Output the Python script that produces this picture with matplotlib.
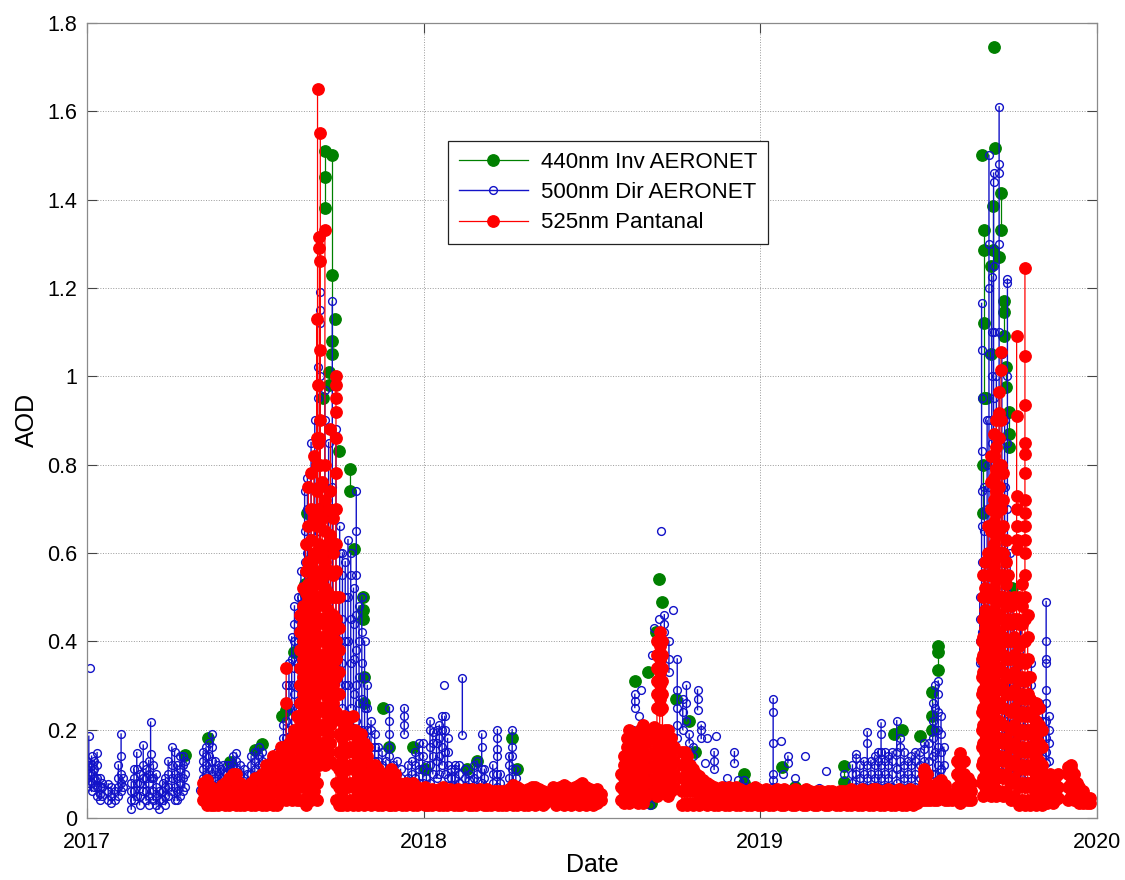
import numpy as np
import pandas as pd
import matplotlib
matplotlib.use("Agg")
import matplotlib.pyplot as plt
from matplotlib.ticker import FuncFormatter

plt.rcParams['font.family'] = ['Liberation Sans', 'DejaVu Sans']

# days counted from 2017-01-01, values are AOD readings of that day
start = pd.Timestamp('2017-01-01')

green_days = [106, 131, 155, 182, 190, 212, 216, 225, 236, 239, 244, 256, 258, 262, 266, 269, 273,
              285, 290, 299, 300, 321, 328, 353, 367, 412, 423, 461, 466,
              594, 608, 612, 617, 620, 623, 639, 653, 659, 712,
              754, 768, 821, 875, 884, 903, 916, 923,
              970, 972, 973, 975, 980, 982, 983, 984, 989, 991, 994, 996, 1000, 1003]
green_aod = [[0.143], [0.18], [0.127], [0.154], [0.167], [0.23], [0.245], [0.375], [0.51, 0.53], [0.69], [0.59],
             [0.95], [1.38, 1.45, 1.51], [0.98, 1.01], [1.05, 1.08, 1.23, 1.5], [1.13], [0.83],
             [0.74, 0.79], [0.61], [0.45, 0.47, 0.5], [0.26, 0.32], [0.25], [0.16], [0.16], [0.11],
             [0.11], [0.13], [0.18], [0.11],
             [0.31], [0.33], [0.035, 0.045], [0.42], [0.54], [0.49], [0.27], [0.22], [0.15], [0.08, 0.1],
             [0.115], [0.07], [0.082, 0.118], [0.19], [0.2], [0.185], [0.2, 0.23, 0.285], [0.335, 0.375, 0.39],
             [1.5], [0.69, 0.8], [0.95, 1.12, 1.285, 1.33], [0.95], [1.05, 1.25], [1.285, 1.385], [1.745],
             [1.517], [1.27], [1.33, 1.415], [1.09, 1.145, 1.17], [0.975, 1.02], [0.84, 0.87, 0.92], [0.52]]

blue_days = [0, 2, 3, 5, 8, 11, 14, 16, 23, 26, 30, 34, 37, 39, 48, 51, 54, 57, 61, 64, 67, 69, 72, 75,
             78, 82, 85, 88, 92, 95, 98, 101, 104, 106, 123, 126, 129, 132, 136, 139, 142, 145, 148,
             152, 155, 158, 162, 166, 170, 174, 178, 182, 186, 190, 194, 198, 202, 206, 210, 213, 216,
             219, 222, 225, 229, 232, 236, 239, 243, 247, 250, 253, 258, 262, 266, 270, 274, 277, 280,
             283, 286, 289, 292, 295, 298, 301, 304, 308, 312, 316, 320, 324, 328, 332, 336, 340, 344,
             348, 352, 356, 360, 364, 368, 372, 375, 379, 382, 385, 387, 388, 391, 395, 399, 403, 407,
             410, 414, 420, 423, 428, 431, 440, 445, 448, 458, 461, 465,
             592, 594, 599, 601, 606, 610, 613, 615, 620, 622, 626, 631, 635, 640, 646, 650, 653, 657,
             662, 666, 670, 672, 680, 682, 694, 702, 706, 712,
             744, 752, 755, 760, 768, 779, 794, 801, 821, 830, 834, 838, 842, 846, 850, 854, 858, 861,
             865, 869, 873, 878, 882, 886, 890, 894, 898, 903, 908, 913, 917, 920, 923, 926, 929,
             968, 970, 973, 976, 978, 981, 983, 986, 989, 992, 995, 998, 1001, 1004, 1008, 1012, 1016,
             1020, 1024, 1028, 1032, 1036, 1040, 1043]
blue_aod = [[0.07, 0.09, 0.11, 0.13], [0.08, 0.1, 0.12, 0.185], [0.34], [0.06, 0.08, 0.1, 0.12, 0.14],
            [0.07, 0.09, 0.11, 0.13], [0.05, 0.07, 0.09, 0.12, 0.148], [0.04, 0.055, 0.07, 0.09],
            [0.05, 0.07, 0.08], [0.04, 0.06, 0.077], [0.035, 0.05, 0.07], [0.04, 0.06],
            [0.05, 0.07, 0.09, 0.12], [0.06, 0.08, 0.1, 0.14, 0.19], [0.07, 0.09],
            [0.02, 0.04, 0.06, 0.08], [0.04, 0.06, 0.09, 0.11], [0.05, 0.08, 0.11, 0.148],
            [0.03, 0.05, 0.08, 0.1], [0.06, 0.09, 0.12, 0.165], [0.04, 0.06, 0.09, 0.11],
            [0.03, 0.05, 0.08, 0.1, 0.13], [0.09, 0.145, 0.217], [0.04, 0.06, 0.09, 0.12],
            [0.03, 0.05, 0.07, 0.1], [0.02, 0.04, 0.06], [0.04, 0.06, 0.08], [0.03, 0.05, 0.07, 0.09],
            [0.05, 0.07, 0.1, 0.13], [0.06, 0.09, 0.12, 0.16], [0.04, 0.07, 0.1, 0.15],
            [0.04, 0.06, 0.09, 0.12], [0.05, 0.08, 0.11, 0.14], [0.06, 0.09, 0.12, 0.14],
            [0.07, 0.1, 0.13], [0.063], [0.07, 0.09, 0.11, 0.13, 0.15], [0.08, 0.1, 0.12, 0.14, 0.16],
            [0.07, 0.09, 0.11, 0.14, 0.17], [0.1, 0.13, 0.16, 0.19], [0.07, 0.09, 0.11, 0.13],
            [0.06, 0.08, 0.1, 0.12], [0.07, 0.09, 0.11], [0.06, 0.08, 0.1, 0.12], [0.08, 0.1, 0.12],
            [0.07, 0.09, 0.11, 0.12], [0.08, 0.1, 0.12, 0.14], [0.07, 0.09, 0.11, 0.13, 0.147],
            [0.08, 0.1, 0.12], [0.07, 0.09, 0.11], [0.06, 0.08, 0.1], [0.08, 0.1, 0.12, 0.14],
            [0.09, 0.11, 0.13, 0.15], [0.08, 0.1, 0.12, 0.14, 0.16], [0.09, 0.11, 0.13, 0.15],
            [0.08, 0.1, 0.12], [0.07, 0.09, 0.11, 0.13], [0.08, 0.1, 0.12, 0.14],
            [0.09, 0.11, 0.13, 0.15], [0.1, 0.12, 0.14, 0.16], [0.12, 0.15, 0.18, 0.21],
            [0.14, 0.18, 0.22, 0.26, 0.3], [0.15, 0.2, 0.25, 0.3, 0.35], [0.2, 0.25, 0.3, 0.36, 0.41],
            [0.22, 0.28, 0.34, 0.4, 0.44, 0.48], [0.25, 0.3, 0.35, 0.4, 0.45, 0.5],
            [0.3, 0.35, 0.4, 0.45, 0.5, 0.56], [0.35, 0.42, 0.5, 0.58, 0.65, 0.74],
            [0.4, 0.5, 0.6, 0.7, 0.77], [0.45, 0.55, 0.65, 0.75, 0.85], [0.5, 0.6, 0.7, 0.8, 0.9],
            [0.55, 0.65, 0.8, 0.95, 1.02], [0.6, 0.7, 0.85, 1.0, 1.12, 1.15, 1.19],
            [0.5, 0.6, 0.75, 0.9, 0.97], [0.45, 0.55, 0.7, 0.85], [0.4, 0.5, 0.6, 0.75, 1.17],
            [0.35, 0.45, 0.55, 0.7, 0.88], [0.3, 0.4, 0.5, 0.6, 0.66], [0.25, 0.35, 0.45, 0.55, 0.6],
            [0.22, 0.3, 0.4, 0.5, 0.58], [0.2, 0.3, 0.4, 0.5, 0.63], [0.25, 0.35, 0.45, 0.55, 0.6],
            [0.2, 0.28, 0.36, 0.44, 0.52], [0.22, 0.3, 0.38, 0.46, 0.55, 0.65, 0.74],
            [0.2, 0.26, 0.32, 0.4, 0.48], [0.15, 0.2, 0.27, 0.35, 0.42, 0.5],
            [0.12, 0.18, 0.25, 0.32, 0.4], [0.1, 0.15, 0.2, 0.25, 0.3], [0.08, 0.12, 0.16, 0.2, 0.22],
            [0.07, 0.1, 0.13, 0.16, 0.19], [0.08, 0.1, 0.13, 0.16], [0.06, 0.09, 0.12, 0.15],
            [0.07, 0.1, 0.13], [0.08, 0.11, 0.14, 0.16, 0.19, 0.22, 0.25], [0.06, 0.09, 0.12],
            [0.07, 0.1, 0.13], [0.06, 0.09, 0.11], [0.19, 0.21, 0.23, 0.25], [0.07, 0.09, 0.12],
            [0.06, 0.08, 0.1, 0.13], [0.07, 0.09, 0.12, 0.15], [0.08, 0.11, 0.14, 0.17],
            [0.08, 0.11, 0.14, 0.17], [0.06, 0.09, 0.12], [0.08, 0.12, 0.16, 0.2, 0.22],
            [0.1, 0.14, 0.17, 0.195], [0.09, 0.13, 0.17, 0.2], [0.1, 0.14, 0.18, 0.21],
            [0.12, 0.16, 0.2, 0.23], [0.3], [0.1, 0.15, 0.2, 0.23], [0.09, 0.12, 0.15, 0.18],
            [0.07, 0.09, 0.11], [0.07, 0.09, 0.11, 0.12], [0.06, 0.08, 0.1, 0.12], [0.188, 0.317],
            [0.07, 0.09, 0.11], [0.07, 0.085, 0.1], [0.06, 0.09, 0.12], [0.07, 0.1, 0.13],
            [0.08, 0.11, 0.16, 0.19], [0.07, 0.09, 0.11], [0.06, 0.08, 0.1, 0.12],
            [0.07, 0.1, 0.14, 0.155, 0.18, 0.2], [0.06, 0.08, 0.1], [0.07, 0.09, 0.12, 0.14],
            [0.08, 0.11, 0.14, 0.16, 0.2], [0.07, 0.09, 0.11],
            [0.08, 0.2], [0.25, 0.265, 0.28], [0.23], [0.29], [0.1, 0.13, 0.17],
            [0.03, 0.05, 0.07, 0.09, 0.12], [0.37], [0.43], [0.45], [0.65], [0.4, 0.42, 0.44, 0.46],
            [0.33, 0.36, 0.4], [0.47], [0.18, 0.21, 0.25, 0.29, 0.36], [0.2, 0.24, 0.27],
            [0.22, 0.26, 0.3], [0.17, 0.19], [0.14, 0.16], [0.245, 0.27, 0.29], [0.18, 0.2, 0.21],
            [0.125], [0.18], [0.11, 0.13, 0.15], [0.185], [0.09], [0.125, 0.15], [0.085], [0.07, 0.085],
            [0.07, 0.085, 0.1, 0.17, 0.24, 0.27], [0.175], [0.1], [0.125, 0.14], [0.09], [0.14],
            [0.06, 0.068], [0.107], [0.1], [0.06, 0.08, 0.1, 0.12], [0.07, 0.1, 0.135, 0.145],
            [0.06, 0.09, 0.12], [0.07, 0.1, 0.13], [0.06, 0.09, 0.12, 0.17, 0.195], [0.07, 0.1, 0.13],
            [0.06, 0.09, 0.12, 0.14], [0.07, 0.1, 0.13, 0.15], [0.06, 0.09, 0.12, 0.15, 0.19, 0.215],
            [0.07, 0.1, 0.13, 0.15], [0.06, 0.09, 0.12, 0.14], [0.07, 0.1, 0.13, 0.15],
            [0.08, 0.11, 0.15, 0.22], [0.07, 0.1, 0.13, 0.16, 0.18], [0.06, 0.09, 0.12, 0.15],
            [0.07, 0.1, 0.13], [0.06, 0.09, 0.12, 0.14], [0.07, 0.1, 0.13, 0.15],
            [0.06, 0.09, 0.12, 0.15], [0.07, 0.1, 0.13, 0.155, 0.17], [0.07, 0.1, 0.13, 0.17],
            [0.1, 0.14, 0.18, 0.22, 0.26], [0.06, 0.1, 0.15, 0.2, 0.25, 0.3],
            [0.08, 0.12, 0.16, 0.2, 0.24, 0.28, 0.31], [0.07, 0.11, 0.15, 0.19, 0.23], [0.08, 0.12, 0.16],
            [0.35, 0.4, 0.45, 0.5], [0.35, 0.42, 0.5, 0.58, 0.66, 0.74, 0.83, 0.95, 1.06, 1.165],
            [0.3, 0.38, 0.46, 0.55, 0.65, 0.75], [0.4, 0.5, 0.6, 0.7, 0.8, 0.9],
            [0.45, 0.6, 0.75, 0.9, 1.05, 1.2, 1.3, 1.5], [0.3, 0.4, 0.55, 0.7, 0.85, 1.0, 1.1, 1.225],
            [0.2, 0.35, 0.5, 0.65, 0.8, 0.95, 1.1, 1.25, 1.44, 1.46], [0.15, 0.25, 0.4, 0.55, 0.7, 0.85, 1.0],
            [0.1, 0.2, 0.35, 0.5, 0.7, 0.9, 1.1, 1.3, 1.46, 1.48, 1.61],
            [0.1, 0.2, 0.3, 0.45, 0.6, 0.75, 0.9, 1.05], [0.12, 0.22, 0.32, 0.45, 0.6, 0.75, 0.9],
            [0.15, 0.25, 0.4, 0.55, 0.7, 0.85, 1.0, 1.21, 1.22], [0.1, 0.2, 0.3, 0.4, 0.5, 0.6],
            [0.1, 0.2, 0.3, 0.4, 0.5], [0.1, 0.18, 0.26, 0.34, 0.42], [0.08, 0.15, 0.22, 0.3, 0.38, 0.45],
            [0.08, 0.14, 0.2, 0.26, 0.32], [0.1, 0.16, 0.22, 0.28], [0.12, 0.18, 0.24, 0.3, 0.35],
            [0.1, 0.15, 0.2, 0.24], [0.13, 0.18, 0.22, 0.26], [0.14, 0.18, 0.22, 0.25],
            [0.125, 0.15, 0.18, 0.22, 0.26, 0.29, 0.35, 0.36, 0.4, 0.49], [0.13, 0.17, 0.2, 0.23]]

red_days = [126, 130, 134, 138, 142, 146, 150, 154, 158, 162, 166, 170, 174, 178, 182, 186, 190, 194,
            198, 202, 206, 210, 213, 216, 219, 222, 225, 228, 231, 234, 237, 240, 243, 246, 249, 250,
            252, 253, 255, 258, 261, 264, 267, 270, 273, 276, 279, 282, 285, 288, 291, 294, 297, 300,
            304, 308, 312, 316, 320, 324, 328,
            330, 334, 338, 342, 346, 350, 354, 358, 362, 366, 370, 374, 378, 382, 386, 390, 394, 398,
            402, 406, 410, 414, 418, 422, 426, 430, 434, 438, 442, 446, 450, 454, 458, 462, 466, 470,
            474, 478, 482, 486, 490, 494, 497,
            505, 509, 513, 517, 521, 525, 529, 533, 537, 541, 545, 549, 553, 557,
            579, 582, 585, 588, 591, 594, 597, 600, 603, 606,
            615, 618, 621, 624, 627, 630, 633, 636,
            645, 648, 651, 654, 657, 660, 664, 668, 672, 676, 680, 684, 688, 692, 696, 700, 704, 708,
            712, 716, 720, 724, 728, 732, 736, 740, 744, 748, 752, 756, 760, 764, 768, 772, 776, 780,
            784, 788, 792, 796, 800, 804, 808, 812, 816, 820, 824, 828, 832, 836, 840, 844, 848, 852,
            856, 860, 864, 868, 872, 876, 880, 884, 888, 892, 896, 900, 904, 908, 911, 914, 918, 922,
            926, 930, 934, 938, 943, 947, 951, 955, 959,
            970, 972, 974, 977, 980, 983, 986, 989, 991, 993, 996, 999, 1002, 1005, 1008, 1011, 1014,
            1017, 1020, 1023, 1026, 1029, 1032, 1035, 1038, 1041, 1044, 1047, 1050, 1053,
            1064, 1067, 1070, 1073, 1076, 1080, 1084, 1088]
red_aod = [[0.04, 0.06, 0.08], [0.03, 0.05, 0.07, 0.086], [0.03, 0.05, 0.07], [0.03, 0.045, 0.064],
           [0.03, 0.05, 0.065], [0.035, 0.055, 0.075], [0.03, 0.05, 0.08], [0.03, 0.06, 0.09],
           [0.035, 0.06, 0.1], [0.03, 0.05, 0.08, 0.1], [0.03, 0.05, 0.08], [0.03, 0.05, 0.07],
           [0.035, 0.055, 0.07], [0.03, 0.05, 0.08], [0.03, 0.06, 0.09], [0.035, 0.06, 0.09],
           [0.03, 0.05, 0.08, 0.1], [0.03, 0.06, 0.09, 0.12], [0.04, 0.07, 0.1, 0.12],
           [0.03, 0.06, 0.09, 0.12, 0.14], [0.03, 0.06, 0.09, 0.12, 0.13], [0.04, 0.07, 0.1, 0.13, 0.16],
           [0.05, 0.08, 0.11, 0.14, 0.16], [0.04, 0.07, 0.1, 0.13, 0.16, 0.26, 0.34],
           [0.05, 0.08, 0.11, 0.14, 0.17], [0.04, 0.07, 0.1, 0.13, 0.16, 0.18],
           [0.05, 0.08, 0.12, 0.16, 0.2], [0.04, 0.08, 0.12, 0.16, 0.2, 0.23],
           [0.04, 0.07, 0.1, 0.14, 0.18, 0.22, 0.26, 0.3, 0.34, 0.38, 0.42, 0.46],
           [0.04, 0.08, 0.12, 0.16, 0.2, 0.24, 0.28, 0.32, 0.36, 0.4, 0.44, 0.48, 0.52],
           [0.03, 0.07, 0.11, 0.15, 0.19, 0.23, 0.27, 0.31, 0.35, 0.39, 0.43, 0.47, 0.51, 0.56, 0.62],
           [0.05, 0.09, 0.13, 0.17, 0.21, 0.25, 0.29, 0.33, 0.37, 0.41, 0.45, 0.49, 0.53, 0.58, 0.66, 0.75],
           [0.04, 0.08, 0.12, 0.16, 0.2, 0.24, 0.28, 0.32, 0.36, 0.4, 0.44, 0.48, 0.52, 0.57, 0.63, 0.7, 0.78],
           [0.06, 0.1, 0.14, 0.18, 0.22, 0.26, 0.3, 0.34, 0.38, 0.42, 0.46, 0.5, 0.55, 0.6, 0.68, 0.82],
           [0.04, 0.08, 0.12, 0.16, 0.2, 0.24, 0.28, 0.32, 0.36, 0.4, 0.44, 0.48, 0.53, 0.59, 0.66, 0.74,
            0.8, 0.86, 1.13],
           [0.5, 0.6, 0.7, 0.85, 0.98, 1.65],
           [0.12, 0.2, 0.3, 0.4, 0.5, 0.62, 0.75, 0.86, 1.29, 1.315],
           [0.15, 0.25, 0.35, 0.45, 0.56, 0.67, 0.8, 0.9, 1.06, 1.26, 1.55],
           [0.13, 0.17, 0.21, 0.25, 0.29, 0.33, 0.37, 0.41, 0.45, 0.49, 0.54, 0.6, 0.68, 0.76],
           [0.12, 0.16, 0.2, 0.24, 0.28, 0.32, 0.36, 0.4, 0.44, 0.48, 0.52, 0.58, 0.65, 0.72, 0.8, 1.33],
           [0.15, 0.19, 0.23, 0.27, 0.31, 0.35, 0.39, 0.43, 0.47, 0.51, 0.56, 0.62, 0.7],
           [0.13, 0.17, 0.21, 0.25, 0.29, 0.33, 0.37, 0.41, 0.45, 0.5, 0.56, 0.64, 0.74, 0.88],
           [0.22, 0.26, 0.3, 0.34, 0.38, 0.42, 0.46, 0.5, 0.55, 0.6, 0.68],
           [0.04, 0.08, 0.12, 0.24, 0.28, 0.32, 0.36, 0.4, 0.45, 0.5, 0.56, 0.62, 0.7, 0.78, 0.86, 0.92,
            0.95, 0.98, 1.0],
           [0.03, 0.07, 0.11, 0.15, 0.19, 0.23, 0.28, 0.33, 0.38, 0.43, 0.5],
           [0.03, 0.06, 0.1, 0.14, 0.18, 0.22], [0.04, 0.08, 0.12, 0.16, 0.2, 0.23],
           [0.03, 0.07, 0.11, 0.15, 0.19, 0.22], [0.04, 0.08, 0.12, 0.16, 0.2],
           [0.03, 0.07, 0.11, 0.15, 0.19, 0.23], [0.04, 0.08, 0.12, 0.16, 0.2],
           [0.03, 0.06, 0.1, 0.14, 0.18], [0.04, 0.08, 0.12, 0.16, 0.19], [0.03, 0.06, 0.1, 0.14, 0.17],
           [0.04, 0.07, 0.1, 0.14, 0.16], [0.03, 0.06, 0.09, 0.12], [0.04, 0.07, 0.1, 0.12],
           [0.03, 0.06, 0.09, 0.11], [0.03, 0.05, 0.08, 0.1], [0.035, 0.06, 0.09], [0.03, 0.05, 0.08],
           [0.03, 0.06, 0.09, 0.11], [0.03, 0.05, 0.08, 0.1], [0.035, 0.06, 0.08], [0.03, 0.05, 0.07],
           [0.03, 0.05, 0.07, 0.08], [0.035, 0.055, 0.075], [0.03, 0.05, 0.08], [0.03, 0.05, 0.07],
           [0.035, 0.055, 0.065], [0.03, 0.05, 0.07], [0.03, 0.045, 0.06], [0.03, 0.05, 0.065],
           [0.035, 0.05, 0.06], [0.03, 0.045, 0.065], [0.03, 0.05, 0.07], [0.03, 0.05, 0.06],
           [0.035, 0.05, 0.065], [0.03, 0.045, 0.06], [0.03, 0.05, 0.065], [0.03, 0.045, 0.06],
           [0.035, 0.05, 0.065], [0.03, 0.045, 0.06], [0.03, 0.05, 0.065], [0.03, 0.045, 0.06],
           [0.035, 0.05, 0.065], [0.03, 0.045, 0.06], [0.03, 0.05, 0.065], [0.03, 0.045, 0.06],
           [0.035, 0.05, 0.06], [0.03, 0.045, 0.06], [0.03, 0.05, 0.06], [0.03, 0.045, 0.06],
           [0.035, 0.05, 0.065], [0.03, 0.05, 0.075], [0.03, 0.05, 0.07], [0.035, 0.05, 0.065],
           [0.03, 0.045, 0.06], [0.03, 0.05, 0.065], [0.035, 0.05, 0.07], [0.03, 0.05, 0.07],
           [0.035, 0.05, 0.065], [0.03, 0.05, 0.06], [0.035, 0.05],
           [0.04, 0.06, 0.07], [0.03, 0.05, 0.065], [0.035, 0.05, 0.07], [0.03, 0.05, 0.075],
           [0.035, 0.055, 0.07], [0.03, 0.05, 0.065], [0.035, 0.05, 0.07], [0.03, 0.05, 0.075],
           [0.035, 0.055, 0.08], [0.03, 0.05, 0.07], [0.035, 0.05, 0.065], [0.03, 0.045, 0.06],
           [0.035, 0.05, 0.065], [0.04, 0.055],
           [0.04, 0.07, 0.1], [0.035, 0.06, 0.09, 0.12, 0.14], [0.04, 0.07, 0.1, 0.13, 0.16, 0.18],
           [0.035, 0.06, 0.09, 0.12, 0.15, 0.18, 0.2], [0.04, 0.07, 0.1, 0.13, 0.16, 0.19],
           [0.04, 0.07, 0.1, 0.13, 0.16, 0.19], [0.035, 0.06, 0.09, 0.12, 0.15, 0.18],
           [0.04, 0.07, 0.1, 0.13, 0.16, 0.19, 0.2], [0.035, 0.06, 0.09, 0.12, 0.15, 0.18, 0.21],
           [0.05, 0.08, 0.11, 0.14, 0.17, 0.2],
           [0.06, 0.09, 0.12, 0.15, 0.18, 0.205],
           [0.05, 0.08, 0.11, 0.14, 0.17, 0.2, 0.25, 0.28, 0.31, 0.34, 0.37, 0.4],
           [0.06, 0.09, 0.12, 0.15, 0.18, 0.2, 0.245, 0.27, 0.3, 0.33, 0.36, 0.39, 0.42],
           [0.07, 0.1, 0.13, 0.16, 0.19, 0.25, 0.28, 0.31, 0.34, 0.37, 0.4],
           [0.06, 0.09, 0.12, 0.15, 0.18, 0.2], [0.05, 0.08, 0.11, 0.14, 0.17, 0.2],
           [0.06, 0.09, 0.12, 0.15, 0.18], [0.07, 0.1, 0.13, 0.16],
           [0.03, 0.06, 0.09, 0.12, 0.15], [0.035, 0.065, 0.095, 0.125, 0.15], [0.03, 0.06, 0.09, 0.12, 0.14],
           [0.035, 0.065, 0.095, 0.12], [0.03, 0.06, 0.09, 0.11], [0.035, 0.06, 0.09, 0.1],
           [0.03, 0.055, 0.08, 0.095], [0.035, 0.06, 0.085], [0.03, 0.055, 0.08], [0.035, 0.055, 0.075],
           [0.03, 0.05, 0.07], [0.03, 0.05, 0.065], [0.035, 0.05, 0.07], [0.03, 0.05, 0.065],
           [0.03, 0.05, 0.07], [0.035, 0.05, 0.065], [0.03, 0.05, 0.07], [0.03, 0.05, 0.065],
           [0.035, 0.05, 0.06], [0.03, 0.045, 0.06], [0.03, 0.05, 0.065], [0.035, 0.05, 0.07],
           [0.03, 0.05, 0.065], [0.03, 0.045, 0.06], [0.035, 0.05, 0.065], [0.03, 0.045, 0.06],
           [0.03, 0.05, 0.06], [0.035, 0.05, 0.065], [0.03, 0.045, 0.06], [0.03, 0.05, 0.065],
           [0.035, 0.05, 0.06], [0.03, 0.045, 0.06], [0.03, 0.05, 0.065], [0.035, 0.05, 0.06],
           [0.03, 0.045, 0.06], [0.03, 0.05, 0.065], [0.035, 0.05, 0.06], [0.03, 0.045, 0.055],
           [0.03, 0.045, 0.06], [0.035, 0.05, 0.06], [0.03, 0.045, 0.055], [0.03, 0.045, 0.06],
           [0.035, 0.05, 0.06], [0.03, 0.045, 0.055], [0.03, 0.045, 0.06], [0.035, 0.05, 0.06],
           [0.03, 0.045, 0.06], [0.03, 0.05, 0.065], [0.035, 0.05, 0.06], [0.03, 0.045, 0.06],
           [0.03, 0.05, 0.065], [0.035, 0.05, 0.06], [0.03, 0.045, 0.06], [0.03, 0.05, 0.065],
           [0.035, 0.05, 0.065], [0.03, 0.05, 0.06], [0.03, 0.045, 0.06], [0.035, 0.05, 0.065],
           [0.03, 0.05, 0.06], [0.03, 0.045, 0.06], [0.035, 0.05, 0.065], [0.03, 0.05, 0.06],
           [0.03, 0.045, 0.06], [0.035, 0.05, 0.065], [0.03, 0.05, 0.06], [0.035, 0.05, 0.06],
           [0.04, 0.055], [0.04, 0.06, 0.08, 0.1, 0.11], [0.04, 0.06, 0.08, 0.1], [0.04, 0.055, 0.07],
           [0.04, 0.055, 0.07], [0.04, 0.06, 0.08], [0.045, 0.065, 0.085], [0.04, 0.06, 0.075],
           [0.04, 0.055], [0.04, 0.055], [0.04, 0.07, 0.1, 0.13], [0.035, 0.06, 0.09, 0.12, 0.147],
           [0.04, 0.07, 0.1, 0.13], [0.04, 0.06, 0.09], [0.04, 0.06, 0.08],
           [0.08, 0.12, 0.16, 0.2, 0.24, 0.28, 0.32, 0.36, 0.4],
           [0.05, 0.09, 0.13, 0.17, 0.21, 0.25, 0.29, 0.33, 0.37, 0.41, 0.45, 0.5, 0.55],
           [0.07, 0.11, 0.15, 0.19, 0.23, 0.27, 0.31, 0.35, 0.39, 0.43, 0.47, 0.52, 0.58],
           [0.06, 0.1, 0.14, 0.18, 0.22, 0.26, 0.3, 0.34, 0.38, 0.42, 0.46, 0.5, 0.55, 0.6, 0.66],
           [0.05, 0.09, 0.13, 0.17, 0.21, 0.25, 0.29, 0.33, 0.37, 0.41, 0.45, 0.5, 0.55, 0.6, 0.65, 0.7,
            0.76, 0.82],
           [0.07, 0.11, 0.15, 0.19, 0.23, 0.27, 0.31, 0.35, 0.39, 0.43, 0.47, 0.52, 0.57, 0.62, 0.67, 0.72,
            0.77, 0.82, 0.87],
           [0.05, 0.09, 0.13, 0.17, 0.21, 0.25, 0.29, 0.33, 0.37, 0.41, 0.45, 0.49, 0.54, 0.59, 0.64, 0.69,
            0.74, 0.79, 0.84, 0.9],
           [0.06, 0.1, 0.14, 0.18, 0.22, 0.26, 0.3, 0.34, 0.38, 0.42, 0.46, 0.5, 0.55, 0.6, 0.65, 0.7, 0.75,
            0.8, 0.86, 0.917, 0.965],
           [0.3, 0.4, 0.5, 0.6, 0.7, 0.8, 0.9, 1.015, 1.055],
           [0.05, 0.09, 0.13, 0.17, 0.21, 0.25, 0.29, 0.33, 0.37, 0.41, 0.45, 0.5, 0.55, 0.6, 0.66, 0.72, 0.78],
           [0.06, 0.1, 0.14, 0.18, 0.28, 0.32, 0.36, 0.4, 0.44, 0.48, 0.53, 0.58, 0.63],
           [0.05, 0.09, 0.13, 0.17, 0.28, 0.32, 0.36, 0.4, 0.45, 0.5, 0.55],
           [0.04, 0.08, 0.12, 0.16, 0.2, 0.24, 0.28, 0.32, 0.36, 0.4, 0.44, 0.48],
           [0.05, 0.09, 0.13, 0.17, 0.21, 0.25, 0.29, 0.33, 0.37, 0.41, 0.45, 0.5],
           [0.04, 0.08, 0.12, 0.16, 0.2, 0.24, 0.28, 0.32, 0.36, 0.4, 0.45, 0.61, 0.63, 0.66, 0.7, 0.73,
            0.91, 1.09],
           [0.03, 0.07, 0.11, 0.15, 0.19, 0.23, 0.27, 0.31, 0.35, 0.39, 0.44, 0.5],
           [0.04, 0.08, 0.12, 0.16, 0.2, 0.24, 0.28, 0.32, 0.36, 0.4, 0.44, 0.48, 0.53],
           [0.03, 0.07, 0.11, 0.15, 0.19, 0.23, 0.27, 0.31, 0.35, 0.4, 0.45, 0.5, 0.55, 0.6, 0.63, 0.66,
            0.69, 0.72, 0.78, 0.825, 0.85, 0.935, 1.045, 1.245],
           [0.04, 0.08, 0.12, 0.16, 0.2, 0.24, 0.28, 0.32, 0.36, 0.41, 0.46],
           [0.03, 0.07, 0.11, 0.15, 0.19, 0.23, 0.27, 0.32],
           [0.04, 0.08, 0.12, 0.16, 0.2, 0.24], [0.03, 0.06, 0.1, 0.14, 0.18, 0.22, 0.26],
           [0.04, 0.07, 0.1, 0.13, 0.17, 0.21, 0.25], [0.03, 0.06, 0.09, 0.12, 0.16, 0.2],
           [0.04, 0.07, 0.1], [0.035, 0.065, 0.09], [0.04, 0.07, 0.1], [0.035, 0.06, 0.085],
           [0.04, 0.065, 0.09], [0.045, 0.07, 0.1],
           [0.04, 0.07, 0.1, 0.115], [0.05, 0.08, 0.11, 0.12], [0.04, 0.07, 0.1], [0.04, 0.06, 0.08],
           [0.035, 0.05, 0.07], [0.035, 0.045, 0.06], [0.035, 0.045], [0.035, 0.045]]

y_ticks = [0, 0.2, 0.4, 0.6, 0.8, 1.0, 1.2, 1.4, 1.6, 1.8]
years = ['2017', '2018', '2019', '2020']


def day_series(days, vals):
    # one vertical run of points per day, days kept apart with NaN
    xs, ys = [], []
    for d, v in zip(days, vals):
        t = start + pd.Timedelta(days=d)
        xs += [t] * (len(v) + 1)
        ys += list(v) + [np.nan]
    return xs, ys


fig = plt.figure(figsize=(11.25, 8.8), dpi=100)
ax = fig.add_axes([0.0773, 0.0705, 0.8977, 0.9035])

gx, gy = day_series(green_days, green_aod)
bx, by = day_series(blue_days, blue_aod)
rx, ry = day_series(red_days, red_aod)

ax.plot(gx, gy, color='#008000', lw=0.9, marker='o', ms=8.2, mfc='#008000', mec='#008000',
        label='440nm Inv AERONET')
ax.plot(bx, by, color='#1212c8', lw=1.0, marker='o', ms=5.6, mfc='none', mec='#1212c8', mew=1.0,
        label='500nm Dir AERONET')
ax.plot(rx, ry, color='#ff0000', lw=0.9, marker='o', ms=8.2, mfc='#ff0000', mec='#ff0000',
        label='525nm Pantanal')

ax.set_xlim(pd.Timestamp('2017-01-01'), pd.Timestamp('2020-01-01'))
ax.set_ylim(0, 1.8)
ax.set_xticks([pd.Timestamp(y + '-01-01') for y in years])
ax.set_xticklabels(years)
ax.set_yticks(y_ticks)
ax.yaxis.set_major_formatter(FuncFormatter(lambda v, p: '%g' % round(v, 1)))

ax.grid(True, which='major', linestyle=':', color='#9a9a9a', lw=0.7)
ax.tick_params(direction='in', length=7, width=0.8, top=True, right=True, labelsize=15.5,
               colors='#444444', labelcolor='black')
ax.tick_params(axis='x', pad=10)
ax.tick_params(axis='y', pad=7)
for s in ax.spines.values():
    s.set_color('#8a8a8a')
    s.set_linewidth(0.9)

ax.set_xlabel('Date', fontsize=18, labelpad=0)
ax.set_ylabel('AOD', fontsize=18, labelpad=6)

leg = ax.legend(loc='upper left', bbox_to_anchor=(0.357, 0.852), fontsize=16, frameon=True,
                fancybox=False, edgecolor='#222222', framealpha=1, handlelength=3.1,
                borderpad=0.5, labelspacing=0.42, handletextpad=0.6, borderaxespad=0)
leg.get_frame().set_linewidth(0.9)

fig.savefig('out.png', dpi=100)
